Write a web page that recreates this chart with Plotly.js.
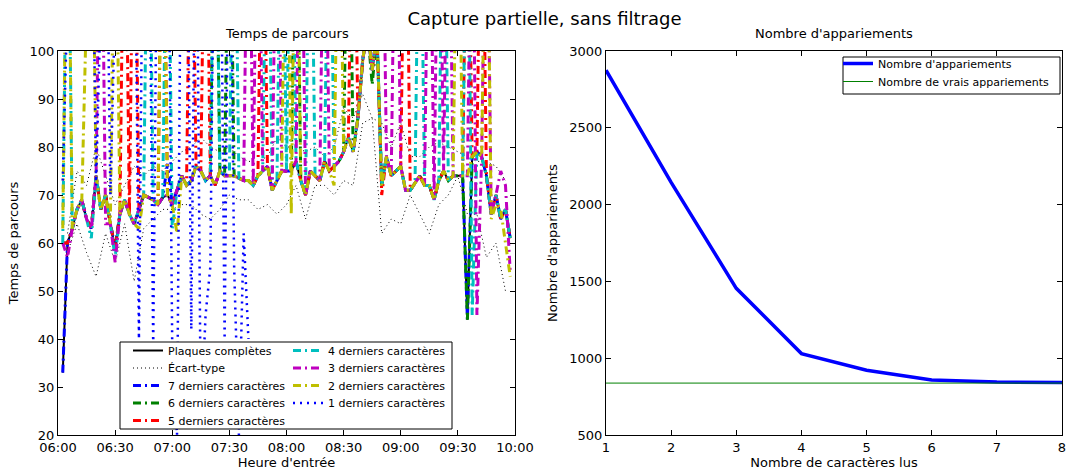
<!DOCTYPE html>
<html><head><meta charset="utf-8">
<script src="https://cdn.plot.ly/plotly-3.0.1.min.js"></script>
<style>html,body{margin:0;padding:0;background:#fff}#chart{width:1067px;height:471px}</style>
</head><body><div id="chart"></div>
<script>
// ---- Data: left chart (Temps de parcours) ----
const entryTimes = [
"06:02:30","06:05:00","06:07:30","06:10:00","06:12:30","06:15:00","06:17:30","06:20:00","06:22:30","06:25:00",
"06:27:30","06:30:00","06:32:30","06:35:00","06:37:30","06:40:00","06:42:30","06:45:00","06:47:30","06:50:00",
"06:52:30","06:55:00","06:57:30","07:00:00","07:02:30","07:05:00","07:07:30","07:10:00","07:12:30","07:15:00",
"07:17:30","07:20:00","07:22:30","07:25:00","07:27:30","07:30:00","07:32:30","07:35:00","07:37:30","07:40:00",
"07:42:30","07:45:00","07:47:30","07:50:00","07:52:30","07:55:00","07:57:30","08:00:00","08:02:30","08:05:00",
"08:07:30","08:10:00","08:12:30","08:15:00","08:17:30","08:20:00","08:22:30","08:25:00","08:27:30","08:30:00",
"08:32:30","08:35:00","08:37:30","08:40:00","08:42:30","08:45:00","08:47:30","08:50:00","08:52:30","08:55:00",
"08:57:30","09:00:00","09:02:30","09:05:00","09:07:30","09:10:00","09:12:30","09:15:00","09:17:30","09:20:00",
"09:22:30","09:25:00","09:27:30","09:30:00","09:32:30","09:35:00","09:37:30","09:40:00","09:42:30","09:45:00",
"09:47:30","09:50:00","09:52:30","09:55:00","09:57:30"];

const plaquesCompletes = [
33,60,63,67,69,65,63,74,67,70,
64,59,66,69,66,64,67,70,69.5,69,
68,69.5,70,68,71,74,72,73,76,75,
73,74,72,75,74,74,74,73.5,73,73,
72,74,75,76,71,73,75,75,75,77,
73,70,75,74,73,77,75,76,77,79,
82,79,86,98,105,96,104,72,78,74,
75,76,71,71,72.5,74,72,72,69,73,
75,73,74,74,74,44,78,79,78,74,
66,70,65,67,61];

const car7 = [
33,60,63,67,69,65,63,74,67,70,
64,59,66,69,66,64,67,70,69.5,69,
68,69.5,76.5,68,71,74,72,73,76,75,
73,74,72,75,74,74,74,73.5,73,73,
72,74,75,76,71,73,75,75,75,77,
73,70,75,74,73,77,75,76,77,79,
82,79,86,98,105,96,104,72,78,74,
75,76,71,71,72.5,74,72,72,69,73,
75,73,74,74,74,44,78,79,78,74,
66,70,65,67,61];

const car6 = [
60,60,63,67,69,65,63,74,67,70,
64,59,66,69,66,64,67,70,69.5,69,
68,69.5,70,68,71,74,72,73,76,75,
73,74,150,75,74,150,74,73.5,73,73,
72,74,75,76,71,73,75,75,75,150,
73,70,75,74,73,77,75,76,77,79,
150,79,86,98,105,93,104,72,78,74,
75,76,71,71,72.5,74,72,72,69,73,
75,73,74,74,74,44,78,79,78,74,
66,70,65,67,61];

const car5 = [
60,60,63,67,69,65,63,74,67,70,
64,59,66,150,66,150,67,70,69.5,69,
68,150,70,68,71,74,72,150,76,75,
150,74,72,75,74,74,74,73.5,73,73,
72,74,150,76,71,73,75,75,75,77,
73,70,75,74,73,77,75,76,77,79,
82,150,86,98,105,96,104,70,78,74,
75,76,150,71,72.5,74,72,72,69,73,
75,73,74,74,74,150,78,79,150,74,
66,70,65,67,61];

const car4 = [
60,150,63,67,69,65,61,74,67,70,
64,57,66,69,66,64,67,70,150,69,
68,69.5,150,63,71,74,72,73,76,75,
73,74,150,75,74,74,150,73.5,73,73,
72,74,75,150,71,73,150,75,150,77,
73,70,150,74,73,77,150,76,77,79,
82,79,86,98,105,96,104,72,78,74,
75,76,71,71,72.5,150,72,72,69,73,
150,73,74,74,74,150,45,79,78,74,
66,70,65,67,61];

const car3 = [
60,57,63,67,69,65,63,74,150,64,
64,56,66,69,66,64,67,70,69.5,69,
68,69.5,70,68,71,74,72,73,76,75,
73,74,72,75,74,74,74,73.5,73,150,
72,150,75,76,71,150,75,75,75,77,
150,70,75,74,73,150,75,76,77,79,
82,79,86,98,105,96,104,150,78,74,
150,76,71,71,72.5,74,72,150,69,150,
75,150,74,74,74,74,150,45,78,150,
66,70,75,72,54];

const car2 = [
63,150,63,67,69,150,150,74,67,70,
64,150,66,69,66,64,63,70,69.5,69,
68,150,70,68,62,74,72,73,76,75,
73,74,72,75,74,74,74,73.5,73,73,
72,74,75,76,71,73,75,150,66,150,
73,70,75,74,73,77,75,72,150,79,
82,79,86,98,105,96,104,72,78,74,
75,76,71,71,72.5,74,72,72,69,73,
75,73,74,150,74,74,78,79,78,150,
65,68,67,60,53];

// 1 derniers caractères: only the first 40 entry times
const car1 = [
73,150,150,150,150,150,150,72,150,150,
70,150,150,150,150,150,40,150,150,38,
150,150,150,38,20,150,150,42,150,22,
45,55,150,150,40,150,55,20,62,40];

const stdTimes = [
"06:05","06:10","06:15","06:20","06:25","06:30","06:35","06:40","06:45","06:50","06:55",
"07:00","07:05","07:10","07:15","07:20","07:25","07:30","07:35","07:40","07:45","07:50","07:55",
"08:00","08:05","08:10","08:15","08:20","08:25","08:30","08:35","08:40","08:45","08:50","08:55",
"09:00","09:05","09:10","09:15","09:20","09:25","09:30","09:35","09:40","09:45","09:50","09:55"];
const stdUpper = [
62,75,72,80,74,68,72,76,74,76,75,
77,79,80,82,80,79,80,78,77,77,78,82,
80,80,79,80,78,80,88,86,91,86,85,80,
85,78,78,80,81,80,79,78,77,77,76,73];
const stdLower = [
58,64,58,53,62,56,64,52,63,65,67,
67,68,68,66,65,67,70,69,69,67,68,66,
68,72,65,72,72,70,73,72,85,86,62,65,
64,70,66,62,68,70,74,66,66,57,60,50];

// ---- Data: right chart (Nombre d'appariements) ----
const nbCaracteres = [1,2,3,4,5,6,7,8];
const nbAppariements = [2875,2145,1455,1030,922,858,845,842];
const nbVraisAppariements = [838,838,838,838,838,838,838,838];

// ---- Build ----
const day = t => '2015-01-01 ' + t;
const xT = entryTimes.map(day);
const xStd = stdTimes.map(t => day(t + ':00'));
const DD = '8px,4px,2px,4px';

function serie(name, y, color, legend) {
  return {x: xT, y: y, name: name, mode: 'lines', type: 'scatter',
    line: {color: color, width: 3, dash: DD}, legend: legend,
    xaxis: 'x', yaxis: 'y', hoverinfo: 'skip'};
}

const traces = [
  {x: xT, y: plaquesCompletes, name: 'Plaques complètes', mode: 'lines', type: 'scatter',
   line: {color: '#000000', width: 2}, legend: 'legend', xaxis: 'x', yaxis: 'y'},
  {x: xStd, y: stdUpper, name: 'Écart-type', legendgroup: 'std', mode: 'lines', type: 'scatter',
   line: {color: '#000000', width: 1, dash: '1px,3px'}, legend: 'legend2', xaxis: 'x', yaxis: 'y'},
  {x: xStd, y: stdLower, name: 'Écart-type', legendgroup: 'std', showlegend: false, mode: 'lines', type: 'scatter',
   line: {color: '#000000', width: 1, dash: '1px,3px'}, legend: 'legend2', xaxis: 'x', yaxis: 'y'},
  serie('7 derniers caractères', car7, '#0000ff', 'legend3'),
  serie('6 derniers caractères', car6, '#008000', 'legend4'),
  serie('5 derniers caractères', car5, '#ff0000', 'legend5'),
  serie('4 derniers caractères', car4, '#00bfbf', 'legend6'),
  serie('3 derniers caractères', car3, '#bf00bf', 'legend7'),
  serie('2 derniers caractères', car2, '#bfbf00', 'legend8'),
  {x: xT.slice(0, car1.length), y: car1, name: '1 derniers caractères', mode: 'lines', type: 'scatter',
   line: {color: '#0000ff', width: 2.5, dash: '2px,5px'}, legend: 'legend9', xaxis: 'x', yaxis: 'y'},
  {x: nbCaracteres, y: nbAppariements, name: "Nombre d'appariements", mode: 'lines', type: 'scatter',
   line: {color: '#0000ff', width: 3.5}, legend: 'legend10', xaxis: 'x2', yaxis: 'y2'},
  {x: nbCaracteres, y: nbVraisAppariements, name: 'Nombre de vrais appariements', mode: 'lines', type: 'scatter',
   line: {color: '#008000', width: 1}, legend: 'legend11', xaxis: 'x2', yaxis: 'y2'}
];

const W = 1067, H = 471;
const px = v => v / W, py = v => 1 - v / H;
const axBase = {showline: true, linecolor: '#000', linewidth: 1, mirror: 'allticks', ticks: 'inside',
  ticklen: 5, tickcolor: '#000', showgrid: false, zeroline: false,
  tickfont: {size: 13, color: '#000'}};
const ydom = [py(435), py(51)];

// one legend per row so rows sit where the reference puts them
function leg(xLeft, rowCentre) {
  return {bgcolor: 'rgba(0,0,0,0)', borderwidth: 0, font: {size: 11, color: '#000'},
    xref: 'paper', yref: 'paper', xanchor: 'left', yanchor: 'top', orientation: 'v',
    x: px(xLeft), y: py(rowCentre - 16)};
}

const layout = {
  width: W, height: H, margin: {l: 0, r: 0, t: 0, b: 0},
  paper_bgcolor: '#fff', plot_bgcolor: '#fff',
  font: {family: 'DejaVu Sans, sans-serif', size: 13, color: '#000'},
  title: {text: 'Capture partielle, sans filtrage', x: px(544.5), xanchor: 'center', y: py(19), yanchor: 'middle',
    font: {size: 18}},
  showlegend: true,
  xaxis: Object.assign({}, axBase, {domain: [px(58), px(515)], anchor: 'y', type: 'date',
    range: [day('06:00:00'), day('10:00:00')], tick0: day('06:00:00'), dtick: 30 * 60 * 1000,
    tickformat: '%H:%M', title: {text: "Heure d'entrée", font: {size: 13}, standoff: 2}}),
  yaxis: Object.assign({}, axBase, {domain: ydom, anchor: 'x', range: [20, 100], dtick: 10,
    title: {text: 'Temps de parcours', font: {size: 13}, standoff: 8}}),
  xaxis2: Object.assign({}, axBase, {domain: [px(606), px(1062)], anchor: 'y2', range: [1, 8], dtick: 1,
    title: {text: 'Nombre de caractères lus', font: {size: 13}, standoff: 2}}),
  yaxis2: Object.assign({}, axBase, {domain: ydom, anchor: 'x2', range: [500, 3000], dtick: 500,
    title: {text: "Nombre d'appariements", font: {size: 13}, standoff: 8}}),
  legend: leg(128, 352),
  legend2: leg(128, 369.5),
  legend3: leg(128, 387),
  legend4: leg(128, 404.5),
  legend5: leg(128, 422),
  legend6: leg(288, 352),
  legend7: leg(288, 369.5),
  legend8: leg(288, 387),
  legend9: leg(288, 404.5),
  legend10: leg(838, 65),
  legend11: leg(838, 83),
  shapes: [
    {type: 'rect', xref: 'paper', yref: 'paper', x0: px(120), x1: px(452), y0: py(429), y1: py(342),
     fillcolor: '#fff', line: {color: '#000', width: 1}, layer: 'above'},
    {type: 'rect', xref: 'paper', yref: 'paper', x0: px(843), x1: px(1060), y0: py(94), y1: py(57),
     fillcolor: '#fff', line: {color: '#000', width: 1}, layer: 'above'}
  ],
  annotations: [
    {text: 'Temps de parcours', xref: 'paper', yref: 'paper', x: px(286.5), y: py(34), xanchor: 'center',
     yanchor: 'middle', showarrow: false, font: {size: 13}},
    {text: "Nombre d'appariements", xref: 'paper', yref: 'paper', x: px(834), y: py(34), xanchor: 'center',
     yanchor: 'middle', showarrow: false, font: {size: 13}}
  ]
};

Plotly.newPlot('chart', traces, layout, {staticPlot: true, displayModeBar: false});
</script>
</body></html>
